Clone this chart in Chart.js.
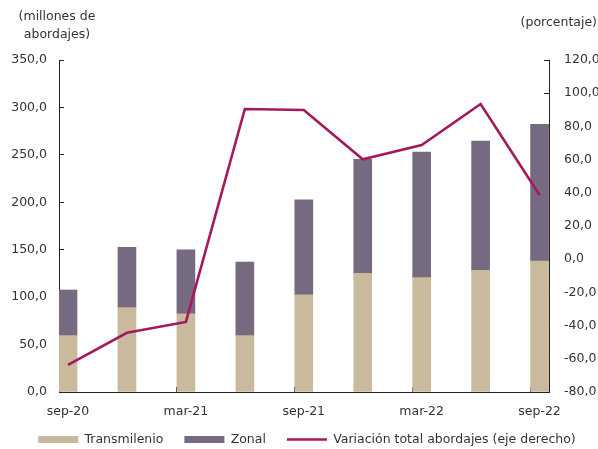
<!DOCTYPE html>
<html>
<head>
<meta charset="utf-8">
<script src="https://cdn.jsdelivr.net/npm/chart.js@4/dist/chart.umd.min.js"></script>
<style>
html,body{margin:0;padding:0;background:#fff;}
#wrap{width:598px;height:449px;position:relative;}
</style>
</head>
<body>
<div id="wrap"><canvas id="c" width="598" height="449"></canvas></div>
<script>
const categories = ["sep-20","dic-20","mar-21","jun-21","sep-21","dic-21","mar-22","jun-22","sep-22"];
const transmilenio = [59.4, 88.9, 82.5, 59.4, 102.5, 125.1, 120.5, 128.3, 138.1];
const zonal = [48.1, 63.6, 67.5, 77.6, 100.2, 120.2, 132.5, 136.3, 144.1];
const variacion = [-63.7, -44.3, -37.8, 90.5, 89.9, 60.2, 68.8, 93.5, 38.7];
const labeledCategories = [0, 2, 4, 6, 8];
const leftTicks = [0, 50, 100, 150, 200, 250, 300, 350];
const rightTicks = [-80, -60, -40, -20, 0, 20, 40, 60, 80, 100, 120];
const leftTitle = ["(millones de", "abordajes)"];
const rightTitle = "(porcentaje)";

const FONT = "'DejaVu Sans'";
const FS = 12.5;
const TXT = "#333333";
const fmt = v => v.toFixed(1).replace(".", ",");
const halfBar = 0.153;
const PLOT_BOTTOM = 392;
const LEGEND_H = 27;
const LEGEND_SHIFT = {x: 8, y: -9.75};

const toXY = arr => arr.map((v, i) => ({x: i, y: v}));

const titlePlugin = {
  id: "axisTitles",
  afterLayout(chart) {
    const lg = chart.legend;
    lg.top += LEGEND_SHIFT.y;
    lg.left += LEGEND_SHIFT.x; lg.right += LEGEND_SHIFT.x;
  },
  afterDraw(chart) {
    const ctx = chart.ctx;
    const a = chart.chartArea;
    ctx.save();
    ctx.fillStyle = TXT;
    ctx.font = FS + "px " + FONT;
    ctx.textBaseline = "middle";
    ctx.textAlign = "center";
    ctx.fillText(leftTitle[0], a.left - 2, 17);
    ctx.fillText(leftTitle[1], a.left - 2, 35);
    ctx.textAlign = "right";
    ctx.fillText(rightTitle, chart.width - 1, 23);
    ctx.restore();
  }
};

new Chart(document.getElementById("c"), {
  type: "bar",
  data: {
    datasets: [
      {
        type: "line",
        label: "Variación total abordajes (eje derecho)",
        data: toXY(variacion),
        yAxisID: "y1",
        borderColor: "#A3195B",
        backgroundColor: "#A3195B",
        borderWidth: 2.6,
        pointRadius: 0,
        tension: 0,
        order: 0
      },
      {
        label: "Transmilenio",
        data: toXY(transmilenio),
        yAxisID: "y",
        backgroundColor: "#C9BA9D",
        barThickness: 18,
        order: 1
      },
      {
        label: "Zonal",
        data: toXY(zonal),
        yAxisID: "y",
        backgroundColor: "#756A7F",
        barThickness: 18,
        order: 1
      }
    ]
  },
  options: {
    responsive: false,
    animation: false,
    layout: {padding: {top: 60, left: 0, right: 0, bottom: 0}},
    plugins: {
      tooltip: {enabled: false},
      legend: {
        position: "bottom",
        maxHeight: LEGEND_H,
        labels: {
          font: {family: FONT, size: FS},
          color: TXT,
          usePointStyle: true,
          pointStyleWidth: 40,
          boxHeight: 7,
          padding: 21,
          generateLabels(chart) {
            const order = [1, 2, 0];
            return order.map(i => {
              const ds = chart.data.datasets[i];
              const isLine = ds.type === "line";
              return {
                text: ds.label,
                fillStyle: ds.backgroundColor,
                strokeStyle: isLine ? ds.borderColor : ds.backgroundColor,
                lineWidth: isLine ? 2.6 : 0,
                pointStyle: isLine ? "line" : "rect",
                hidden: false,
                datasetIndex: i,
                fontColor: TXT
              };
            });
          }
        }
      }
    },
    scales: {
      x: {
        type: "linear",
        stacked: true,
        offset: false,
        min: -halfBar,
        max: categories.length - 1 + 0.16,
        afterBuildTicks(s) {
          s.ticks = labeledCategories.map(i => ({value: i - halfBar}));
        },
        afterFit(s) { s.height = s.chart.height - PLOT_BOTTOM - s.chart.legend.height; },
        ticks: {
          callback: v => categories[Math.round(v)],
          labelOffset: 9,
          padding: 17.5,
          font: {family: FONT, size: FS},
          color: TXT,
          autoSkip: false,
          maxRotation: 0
        },
        grid: {offset: false, drawOnChartArea: false, drawTicks: true, tickLength: -5, color: "#222"},
        border: {display: true, color: "#222", width: 1}
      },
      y: {
        position: "left",
        stacked: true,
        min: 0,
        max: 350,
        afterBuildTicks(s) { s.ticks = leftTicks.map(v => ({value: v})); },
        afterFit(s) { s.width = 59; },
        ticks: {
          callback: v => fmt(v),
          padding: 17,
          font: {family: FONT, size: FS},
          color: TXT
        },
        grid: {drawOnChartArea: false, drawTicks: true, tickLength: -5, color: "#222"},
        border: {display: true, color: "#222", width: 1}
      },
      y1: {
        position: "right",
        min: -80,
        max: 120,
        afterBuildTicks(s) { s.ticks = rightTicks.map(v => ({value: v})); },
        afterFit(s) { s.width = 49; },
        ticks: {
          callback: v => fmt(v),
          padding: 20,
          font: {family: FONT, size: FS},
          color: TXT
        },
        grid: {drawOnChartArea: false, drawTicks: true, tickLength: -5, color: "#222"},
        border: {display: true, color: "#222", width: 1}
      }
    }
  },
  plugins: [titlePlugin]
});
</script>
</body>
</html>
